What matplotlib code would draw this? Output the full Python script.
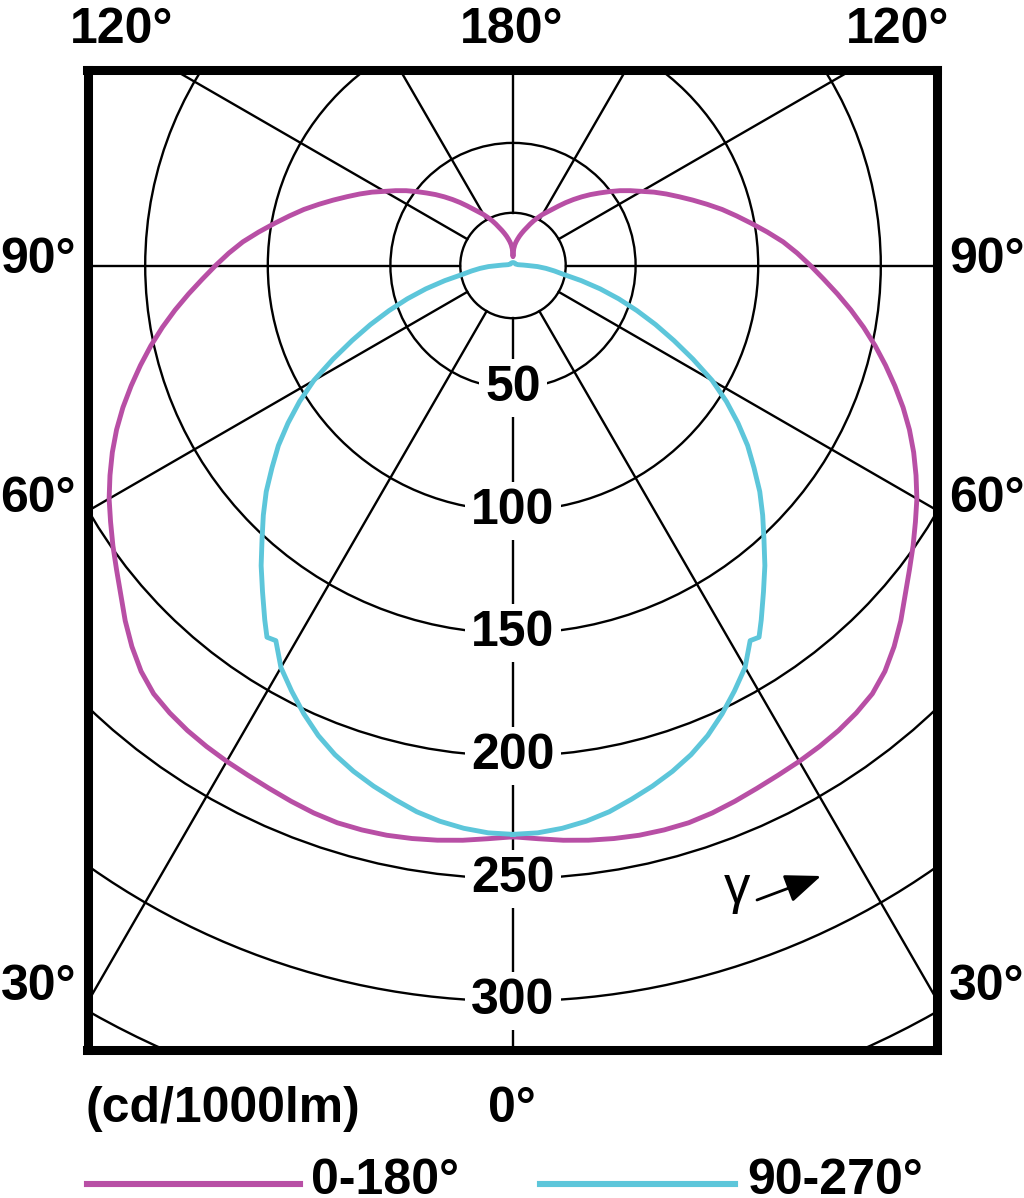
import numpy as np
import matplotlib
matplotlib.use("Agg")
import matplotlib.pyplot as plt
from matplotlib.patches import Circle
from matplotlib.lines import Line2D

# luminous intensity (cd/1000lm), gamma measured from 0 deg (down)
angles_c0 = [0, 2.5, 5, 7.5, 10, 12.5, 15, 17.5, 20, 22.5, 25, 27.5, 30, 32.5, 35,
             37.5, 40, 42.5, 45, 47.5, 50, 52.5, 55, 57.5, 60, 62.5, 65, 67.5, 70,
             72.5, 75, 77.5, 80, 82.5, 85, 87.5, 90, 92.5, 95, 97.5, 100, 102.5,
             105, 107.5, 110, 112.5, 115, 117.5, 120, 122.5, 125, 127.5, 130,
             132.5, 135, 137.5, 140, 142.5, 145, 147.5, 150, 152.5, 155, 157.5,
             160, 162.5, 165, 167.5, 170, 172.5, 175, 177.5, 180]
i_c0 = [233, 234, 235.3, 236.4, 237.3, 238, 238.3, 238.3, 237.6, 236.5, 235.3,
        234.3, 233.5, 232.6, 231.5, 230, 228, 224.5, 219.8, 214.5, 208.8, 203.8,
        199.2, 194.6, 190.2, 185.3, 180.3, 175, 169.3, 163.3, 157.3, 151.3, 145.2,
        139, 132.8, 126.8, 121.3, 116, 110.6, 104.6, 98.8, 93.4, 88.3, 83, 78,
        73.3, 69, 64.8, 60.5, 56.8, 53.2, 49.5, 46, 42.8, 39.6, 36.5, 33.5, 30.6,
        28, 25.8, 24, 22, 20.2, 18.3, 16.5, 15, 13.6, 12.3, 11, 9.8, 8.5, 6.8, 3.6]

angles_c90 = [0, 2.5, 5, 7.5, 10, 12.5, 15, 17.5, 20, 22.5, 25, 27.5, 30, 32.3,
              33.5, 35, 37.5, 40, 42.5, 45, 47.5, 50, 52.5, 55, 57.5, 60, 62.5, 65,
              67.5, 70, 72.5, 75, 77.5, 80, 82.5, 85, 87.5, 90, 92.5, 95, 100, 110,
              120, 140, 160, 180]
i_c90 = [232, 231.6, 230.4, 228.6, 226.2, 223, 219.8, 216.3, 212.3, 207.5, 201.8,
         195.6, 189.3, 181, 181.8, 176.5, 167.8, 159.8, 151.5, 144, 136.5, 128.3,
         120.6, 112, 103.2, 93.8, 82.8, 72.4, 62.9, 53.8, 45.2, 36.8, 28.5, 21,
         17, 13.5, 10, 6, 4.2, 3, 2, 1.5, 1.2, 1.2, 1.2, 1.2]

ring_values = [21.5, 50, 100, 150, 200, 250, 300, 350]
ring_labels = [50, 100, 150, 200, 250, 300]
spoke_angles = [0, 30, 60, 90, 120, 150]

MAGENTA = "#b84fa5"
CYAN = "#5dc6da"

plt.rcParams["font.family"] = ["Liberation Sans", "DejaVu Sans"]

W, H = 1024, 1198
PX = 2.452          # pixels per cd
CX, CY = 513, 265.5  # pole position in pixels


def fpx(x, y):
    return x / W, 1 - y / H


fig = plt.figure(figsize=(W / 100, H / 100), dpi=100)
left, right, top, bottom = 87.5, 937, 70, 1050
ax = fig.add_axes([left / W, 1 - bottom / H, (right - left) / W, (bottom - top) / H])
ax.set_xlim((left - CX) / PX, (right - CX) / PX)
ax.set_ylim((CY - bottom) / PX, (CY - top) / PX)
ax.set_xticks([])
ax.set_yticks([])
for s in ax.spines.values():
    s.set_linewidth(6.5)
    s.set_zorder(6)

# grid
for r in ring_values:
    ax.add_patch(Circle((0, 0), r, fill=False, lw=1.7, ec="black", zorder=1))
r0 = ring_values[0]
for a in spoke_angles:
    sa, ca = np.sin(np.radians(a)), np.cos(np.radians(a))
    for sgn in (1, -1):
        ax.plot([sgn * r0 * sa, sgn * 600 * sa], [-sgn * r0 * ca, -sgn * 600 * ca],
                color="black", lw=1.7, zorder=1)

for v in ring_labels:
    ax.text(0, -v, str(v), ha="center", va="center", fontsize=36, weight="bold",
            bbox=dict(boxstyle="square,pad=0.12", fc="white", ec="none"), zorder=3)


def outline(angles, vals):
    th = np.radians(angles)
    r = np.array(vals)
    xs = np.concatenate([-r * np.sin(th), (r * np.sin(th))[::-1]])
    ys = np.concatenate([-r * np.cos(th), (-r * np.cos(th))[::-1]])
    return xs, ys


x0, y0 = outline(angles_c0, i_c0)
ax.plot(x0, y0, color=MAGENTA, lw=3.5, zorder=4, solid_joinstyle="round")
x9, y9 = outline(angles_c90, i_c90)
ax.plot(x9, y9, color=CYAN, lw=3.5, zorder=4, solid_joinstyle="round")

# gamma arrow
ax.text(*fpx(737, 903), "γ", transform=fig.transFigure, ha="center",
        va="baseline", fontsize=38)
ax.annotate("", xy=(821, H - 876), xytext=(757, H - 900),
            xycoords="figure pixels", textcoords="figure pixels",
            arrowprops=dict(arrowstyle="-|>,head_length=0.55,head_width=0.22",
                            mutation_scale=40, lw=2, color="black",
                            shrinkA=0, shrinkB=0))

# angle labels around the frame
tk = dict(fontsize=36, weight="bold", va="baseline")
fig.text(*fpx(122, 43), "120°", ha="center", **tk)
fig.text(*fpx(512, 43), "180°", ha="center", **tk)
fig.text(*fpx(898, 43), "120°", ha="center", **tk)
for txt, yb in [("90°", 273), ("60°", 512), ("30°", 1000)]:
    fig.text(*fpx(76, yb), txt, ha="right", **tk)
    fig.text(*fpx(949, yb), txt, ha="left", **tk)

fig.text(*fpx(86, 1122), "(cd/1000lm)", ha="left", **tk)
fig.text(*fpx(512, 1122), "0°", ha="center", **tk)

# legend
fig.add_artist(Line2D([87 / W, 300 / W], [1 - 1183.5 / H] * 2, color=MAGENTA, lw=4.4))
fig.text(*fpx(311, 1194), "0-180°", ha="left", **tk)
fig.add_artist(Line2D([540 / W, 735 / W], [1 - 1183.5 / H] * 2, color=CYAN, lw=4.4))
fig.text(*fpx(747, 1194), "90-270°", ha="left", **tk)

fig.savefig("out.png", dpi=100)
